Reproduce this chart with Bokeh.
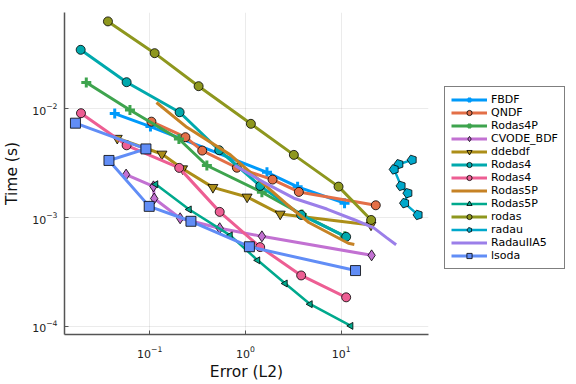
import numpy as np
from bokeh.plotting import figure
from bokeh.models import Legend, LegendItem, ColumnDataSource
from bokeh.embed import file_html
from bokeh.resources import INLINE

# ---- data (Error (L2), Time (s)) ----
fbdf_err = [0.0432, 0.102, 1.68, 3.51, 10.85]
fbdf_time = [0.00906, 0.00688, 0.00261, 0.00192, 0.00136]

qndf_err = [0.1044, 0.2364, 0.354, 0.815, 1.922, 3.618, 23.0]
qndf_time = [0.00764, 0.0055, 0.00414, 0.00288, 0.00224, 0.001725, 0.0013]

rodas4p_err = [0.0218, 0.0623, 0.2022, 0.396, 1.487, 3.889, 10.93]
rodas4p_time = [0.01752, 0.00979, 0.00529, 0.00302, 0.001714, 0.00107, 0.000673]

cvode_err = [0.0568, 0.1096, 0.1117, 0.2082, 0.539, 1.487, 20.8]
cvode_time = [0.00249, 0.00194, 0.0015, 0.000987, 0.0008, 0.000673, 0.00045]

ddebdf_err = [0.0459, 0.1344, 0.221, 0.458, 1.042, 2.31, 20.5]
ddebdf_time = [0.00538, 0.00385, 0.00282, 0.0019, 0.00155, 0.00108, 0.000857]

rodas4a_err = [0.01905, 0.0575, 0.2057, 0.533, 1.427, 3.824, 11.28]
rodas4a_time = [0.035, 0.01763, 0.00933, 0.00417, 0.00196, 0.00106, 0.000666]

rodas4b_err = [0.01919, 0.0575, 0.2037, 0.539, 1.427, 3.824, 11.28]
rodas4b_time = [0.00914, 0.00463, 0.00287, 0.00113, 0.000536, 0.000294, 0.000185]

rodas5pa_err = [0.1178, 0.2451, 0.697, 2.648, 4.6, 11.89, 13.73]
rodas5pa_time = [0.01146, 0.00678, 0.00378, 0.00135, 0.000903, 0.000581, 0.000567]

rodas5pb_err = [0.1158, 0.2591, 0.694, 1.344, 2.603, 4.747, 12.63]
rodas5pb_time = [0.00203, 0.00119, 0.000687, 0.000405, 0.000248, 0.00016, 0.000101]

rodas_err = [0.0367, 0.1128, 0.3248, 1.141, 3.208, 9.395, 20.57]
rodas_time = [0.0639, 0.0326, 0.0162, 0.0073, 0.00378, 0.00193, 0.000952]

radau_err = [55.1, 40.0, 35.75, 42.2, 49.7, 45.9, 63.5]
radau_time = [0.0034, 0.0031, 0.00278, 0.00196, 0.00168, 0.00136, 0.00106]

radauiia5_err = [0.777, 1.56, 3.21, 7.09, 13.9, 21.9, 30.0, 37.5]
radauiia5_time = [0.00302, 0.00211, 0.00151, 0.0012, 0.000952, 0.000805, 0.000652, 0.000563]

lsoda_err = [0.0168, 0.0915, 0.0376, 0.099, 0.27, 1.101, 14.13]
lsoda_time = [0.0074, 0.00429, 0.00336, 0.00127, 0.000926, 0.00054, 0.000326]

series = [
    ("FBDF", fbdf_err, fbdf_time, "#009AFA", "cross"),
    ("QNDF", qndf_err, qndf_time, "#E36F47", "circle"),
    ("Rodas4P", rodas4p_err, rodas4p_time, "#3EA44E", "cross"),
    ("CVODE_BDF", cvode_err, cvode_time, "#C271D2", "diamond"),
    ("ddebdf", ddebdf_err, ddebdf_time, "#AC8E18", "inverted_triangle"),
    ("Rodas4", rodas4a_err, rodas4a_time, "#00A9AD", "circle"),
    ("Rodas4", rodas4b_err, rodas4b_time, "#ED5E93", "circle"),
    ("Rodas5P", rodas5pa_err, rodas5pa_time, "#C68225", None),
    ("Rodas5P", rodas5pb_err, rodas5pb_time, "#00A98D", "ltriangle"),
    ("rodas", rodas_err, rodas_time, "#8E971E", "circle"),
    ("radau", radau_err, radau_time, "#00A8CB", "pentagon"),
    ("RadauIIA5", radauiia5_err, radauiia5_time, "#9B7FE9", None),
    ("lsoda", lsoda_err, lsoda_time, "#618DF6", "square"),
]

FONT = "DejaVu Sans"

p = figure(x_axis_type="log", y_axis_type="log",
           x_range=(0.01291, 81.7), y_range=(8.415e-5, 0.07716),
           frame_width=364, frame_height=322,
           min_border_left=55, min_border_right=0,
           min_border_top=12, min_border_bottom=42,
           output_backend="svg", toolbar_location=None)

p.outline_line_color = None
p.background_fill_color = "white"
p.border_fill_color = "white"

for ax in (p.xaxis[0], p.yaxis[0]):
    ax.axis_line_color = "#555555"
    ax.axis_line_width = 1.5
    ax.major_tick_in = 4
    ax.major_tick_out = 0
    ax.major_tick_line_color = "#555555"
    ax.minor_tick_line_color = None
    ax.major_label_text_font = FONT
    ax.major_label_text_font_size = "11px"
    ax.major_label_text_color = "#222222"
    ax.axis_label_text_font = FONT
    ax.axis_label_text_font_size = "15.5px"
    ax.axis_label_text_font_style = "normal"
    ax.axis_label_text_color = "#111111"

p.xaxis.axis_label = "Error (L2)"
p.yaxis.axis_label = "Time (s)"
p.xaxis.major_label_standoff = 7
p.xaxis.axis_label_standoff = 2
p.yaxis.major_label_standoff = 3
p.yaxis.axis_label_standoff = 8

p.xgrid.grid_line_color = "black"
p.xgrid.grid_line_alpha = 0.08
p.ygrid.grid_line_color = "black"
p.ygrid.grid_line_alpha = 0.08

items = []
for name, xs, ys, col, mk in series:
    src = ColumnDataSource(dict(x=xs, y=ys))
    rends = []
    lw = 2.5 if mk in ("ltriangle", "pentagon") else 3
    rends.append(p.line("x", "y", source=src, line_color=col, line_width=lw))
    if mk == "cross":
        rends.append(p.scatter("x", "y", source=src, marker="cross", size=10,
                               line_color=col, line_width=3))
    elif mk == "circle":
        rends.append(p.scatter("x", "y", source=src, marker="circle", size=9,
                               fill_color=col, line_color="black", line_width=0.8))
    elif mk == "diamond":
        rends.append(p.scatter("x", "y", source=src, marker="diamond", size=11,
                               fill_color=col, line_color="black", line_width=0.8))
    elif mk == "inverted_triangle":
        rends.append(p.scatter("x", "y", source=src, marker="inverted_triangle", size=10,
                               fill_color=col, line_color="black", line_width=0.8))
    elif mk == "ltriangle":
        rends.append(p.scatter("x", "y", source=src, marker="triangle", size=7,
                               angle=np.pi / 2,
                               fill_color=col, line_color="black", line_width=0.8))
    elif mk == "square":
        rends.append(p.scatter("x", "y", source=src, marker="square", size=10,
                               fill_color=col, line_color="black", line_width=0.8))
    elif mk == "pentagon":
        r = None
        if hasattr(p, "ngon"):
            try:
                r = p.ngon("x", "y", source=src, radius=5, radius_units="screen", n=5,
                           angle=np.pi / 2, fill_color=col, line_color="black",
                           line_width=0.8)
            except Exception:
                r = None
        if r is None:
            r = p.scatter("x", "y", source=src, marker="hex", size=10,
                          fill_color=col, line_color="black", line_width=0.8)
        rends.append(r)
    items.append(LegendItem(label=name, renderers=rends))

legend = Legend(items=items, location=(16, 65), orientation="vertical",
                label_text_font=FONT, label_text_font_size="11px",
                label_text_color="black",
                glyph_width=36, glyph_height=13, label_height=13,
                label_standoff=4, spacing=0, padding=6, margin=0,
                border_line_color="black", border_line_width=1,
                background_fill_color="white", background_fill_alpha=1)
p.add_layout(legend, "right")

open("out.html", "w").write(file_html(p, INLINE))
